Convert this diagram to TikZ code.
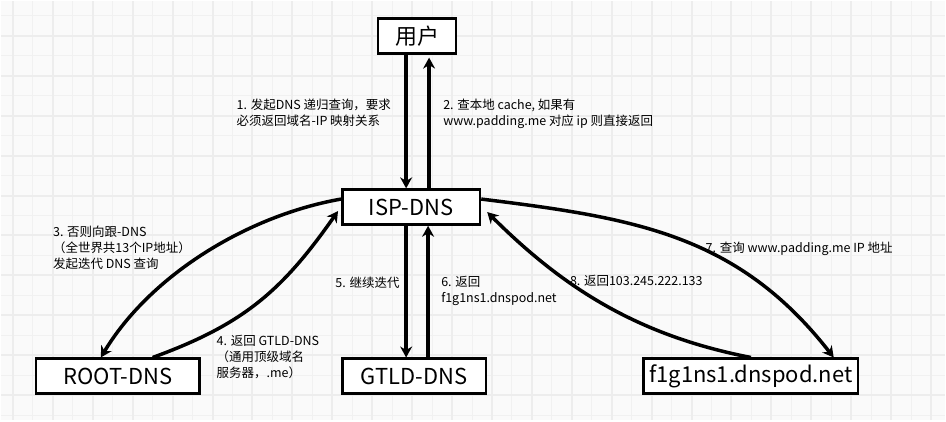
\documentclass[tikz,border=0pt]{standalone}
\usepackage{fontspec}
\setmainfont{Noto Sans CJK SC}
\usetikzlibrary{arrows.meta}

\definecolor{gridbg}{HTML}{FAFAFA}
\definecolor{gridmajor}{HTML}{EDEDED}
\definecolor{gridminor}{HTML}{F1F1F1}

\begin{document}
\begin{tikzpicture}[
                x=1pt, y=1pt,
                box/.style={
                    draw=black,
                    fill=white,
                    line width=2.5pt,
                    rectangle,
                    minimum height=35pt,
                    inner sep=0pt,
                    align=center,
                    font=\fontsize{22}{26}\selectfont
                },
                note/.style={
                    anchor=north west,
                    align=left,
                    inner sep=0pt,
                    font=\fontsize{12.5}{16}\selectfont
                },
                arrow/.style={
                    -{Stealth[length=11pt,width=12pt]},
                    line width=3.5pt
                }
            ]
    
                % background grid
                \fill[gridbg] (0,0) rectangle (946,420);
                \foreach \x in {32,72,...,912} \draw[gridminor, line width=1pt] (\x,0) -- (\x,420);
                \foreach \y in {5,45,...,405} \draw[gridminor, line width=1pt] (0,\y) -- (946,\y);
                \foreach \x in {12,52,...,932} \draw[gridmajor, line width=2pt] (\x,0) -- (\x,420);
                \foreach \y in {25,65,...,385} \draw[gridmajor, line width=2pt] (0,\y) -- (946,\y);
                \useasboundingbox (0,0) rectangle (946,420);

                \node[box, minimum width=78pt] (user) at (417,385) {用户};
                \node[box, minimum width=138pt] (isp) at (411,213.5) {ISP-DNS};
                \node[box, minimum width=164pt] (root) at (117,44) {ROOT-DNS};
                \node[box, minimum width=144pt] (gtld) at (414,44) {GTLD-DNS};
                \node[box, minimum width=215pt] (f1g1) at (751.5,44) {f1g1ns1.dnspod.net};
            
                \draw[arrow] ([xshift=-11pt]user.south) -- ([xshift=-5pt]isp.north);
                \draw[arrow] ([xshift=18pt]isp.north) -- ([xshift=12pt,yshift=-3pt]user.south);
                \draw[arrow] ([yshift=8pt]isp.west) to[out=190,in=59,looseness=0.85] ([xshift=-17pt]root.north);
                \draw[arrow] ([xshift=35pt]root.north) to[out=20,in=235,looseness=1.05] ([xshift=-3pt,yshift=-4pt]isp.west);
                \draw[arrow] ([xshift=-5pt]isp.south) -- ([xshift=-8pt]gtld.north);
                \draw[arrow] ([xshift=14pt]gtld.north) -- ([xshift=17pt]isp.south);
                \draw[arrow] ([yshift=8pt]isp.east) to[out=-7,in=128,looseness=1.03] ([xshift=83pt]f1g1.north);
                \draw[arrow] (f1g1.north) to[out=169,in=-45,looseness=0.95] ([xshift=6pt,yshift=-5pt]isp.east);

                \node[note] (step1) at (236,322) {1. 发起DNS 递归查询，要求\\必须返回域名-IP 映射关系};
                \node[note] (step2) at (443,322) {2. 查本地 cache, 如果有\\www.padding.me 对应 ip 则直接返回};
                \node[note] (step3) at (52,195) {3. 否则向跟-DNS\\（全世界共13个IP地址）\\发起迭代 DNS 查询};
                \node[note] (step4) at (216,85) {4. 返回 GTLD-DNS\\（通用顶级域名\\服务器，.me）};
                \node[note] (step5) at (335,144) {5. 继续迭代};
                \node[note] (step6) at (441,144) {6. 返回\\f1g1ns1.dnspod.net};
                \node[note] (step7) at (706,179) {7. 查询 www.padding.me IP 地址};
                \node[note] (step8) at (570,145) {8. 返回103.245.222.133};
        \end{tikzpicture}
\end{document}
